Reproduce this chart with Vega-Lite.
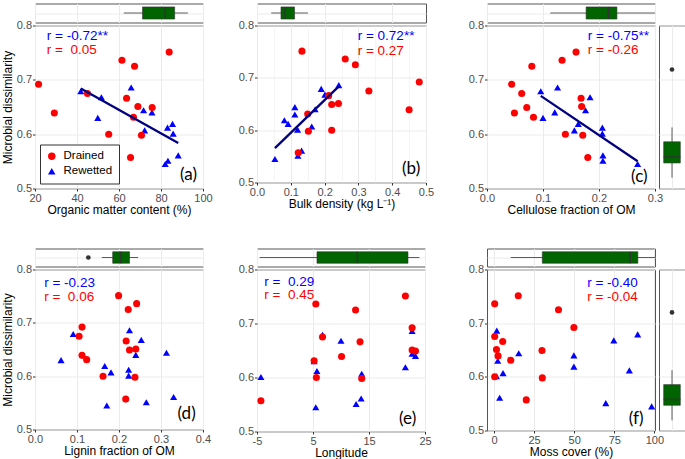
{
"$schema":"https://vega.github.io/schema/vega-lite/v6.json",
"background":"white",
"padding":{"left":0,"top":0.5,"right":0,"bottom":0},
"datasets":{"sites":[
{"g":"Rewetted","dis":0.686,"om":65.8,"bd":0.242,"cel":0.126,"lig":0.225,"lon":22.7,"moss":1.7},
{"g":"Rewetted","dis":0.679,"om":41.8,"bd":0.190,"cel":0.096,"lig":0.091,"lon":6.7,"moss":89.6},
{"g":"Rewetted","dis":0.668,"om":51.6,"bd":0.201,"cel":0.184,"lig":0.253,"lon":10.0,"moss":74.7},
{"g":"Rewetted","dis":0.644,"om":71.7,"bd":0.112,"cel":0.176,"lig":0.313,"lon":22.7,"moss":15.4},
{"g":"Rewetted","dis":0.640,"om":75.7,"bd":0.172,"cel":0.121,"lig":0.240,"lon":23.3,"moss":49.8},
{"g":"Rewetted","dis":0.630,"om":49.9,"bd":0.112,"cel":0.100,"lig":0.062,"lon":5.2,"moss":2.3},
{"g":"Rewetted","dis":0.619,"om":85.5,"bd":0.081,"cel":0.163,"lig":0.166,"lon":21.5,"moss":49.8},
{"g":"Rewetted","dis":0.612,"om":83.1,"bd":0.092,"cel":0.206,"lig":0.223,"lon":5.7,"moss":84.4},
{"g":"Rewetted","dis":0.607,"om":72.2,"bd":0.162,"cel":0.156,"lig":0.181,"lon":13.7,"moss":5.6},
{"g":"Rewetted","dis":0.601,"om":85.8,"bd":0.120,"cel":0.206,"lig":0.223,"lon":-4.3,"moss":1.5},
{"g":"Rewetted","dis":0.561,"om":88.2,"bd":0.132,"cel":0.207,"lig":0.330,"lon":13.6,"moss":3.5},
{"g":"Rewetted","dis":0.551,"om":83.3,"bd":0.121,"cel":0.207,"lig":0.265,"lon":12.7,"moss":69.7},
{"g":"Rewetted","dis":0.545,"om":82.0,"bd":0.053,"cel":0.269,"lig":0.171,"lon":5.5,"moss":98.3},
{"g":"Drained","dis":0.751,"om":83.9,"bd":0.133,"cel":0.159,"lig":0.199,"lon":21.5,"moss":15.1},
{"g":"Drained","dis":0.736,"om":61.4,"bd":0.261,"cel":0.134,"lig":0.242,"lon":5.5,"moss":0.4},
{"g":"Drained","dis":0.725,"om":67.4,"bd":0.291,"cel":0.080,"lig":0.222,"lon":12.6,"moss":40.2},
{"g":"Drained","dis":0.692,"om":21.7,"bd":0.480,"cel":0.044,"lig":0.112,"lon":22.7,"moss":49.8},
{"g":"Drained","dis":0.675,"om":45.0,"bd":0.331,"cel":0.062,"lig":0.105,"lon":6.7,"moss":0.4},
{"g":"Drained","dis":0.666,"om":63.6,"bd":0.212,"cel":0.168,"lig":0.217,"lon":13.4,"moss":5.4},
{"g":"Drained","dis":0.651,"om":69.0,"bd":0.241,"cel":0.169,"lig":0.240,"lon":22.7,"moss":1.5},
{"g":"Drained","dis":0.649,"om":75.8,"bd":0.221,"cel":0.071,"lig":0.225,"lon":23.3,"moss":29.9},
{"g":"Drained","dis":0.639,"om":29.2,"bd":0.450,"cel":0.049,"lig":0.112,"lon":10.1,"moss":2.5},
{"g":"Drained","dis":0.631,"om":66.9,"bd":0.150,"cel":0.083,"lig":0.123,"lon":5.2,"moss":10.4},
{"g":"Drained","dis":0.600,"om":55.1,"bd":0.221,"cel":0.140,"lig":0.162,"lon":5.6,"moss":0.4},
{"g":"Drained","dis":0.598,"om":70.7,"bd":0.152,"cel":0.171,"lig":0.238,"lon":13.7,"moss":30.1},
{"g":"Drained","dis":0.557,"om":65.5,"bd":0.122,"cel":0.180,"lig":0.216,"lon":-4.3,"moss":20.1}
]},
"columns":6,
"bounds":"flush",
"spacing":{"row":3,"column":4},
"resolve":{"scale":{"color":"independent","shape":"independent"}},
"concat":[
   {"width":168,"height":19,"data":{"values":[{"lo":62.3,"q1":71.2,"med":82.0,"q3":86.5,"hi":92.8}]},
    "layer":[
     {"mark":{"type":"rule","color":"#333333","strokeWidth":0.8},"encoding":{"x":{"field":"lo","type":"quantitative","scale":{"domain":[20,100],"nice":false,"zero":false},"axis":{"values":[20,30,40,50,60,70,80,90,100],"labels":false,"ticks":false,"title":null,"gridWidth":{"condition":{"test":"datum.value%20!=0","value":0.5},"value":1}}},"x2":{"field":"hi"},"y":{"datum":0.5,"type":"quantitative","scale":{"domain":[0,1],"nice":false,"zero":false},"axis":{"values":[0.5],"labels":false,"ticks":false,"title":null}}}},
     {"mark":{"type":"rect","fill":"#006400","stroke":"#333333","strokeWidth":0.6},"encoding":{"x":{"field":"q1","type":"quantitative"},"x2":{"field":"q3"},"y":{"datum":0.18,"type":"quantitative"},"y2":{"datum":0.82}}},
     {"mark":{"type":"rule","color":"#333333","strokeWidth":1.5},"encoding":{"x":{"field":"med","type":"quantitative"},"y":{"datum":0.18,"type":"quantitative"},"y2":{"datum":0.82}}}
    ]},
   {"width":1,"height":1,"data":{"values":[{}]},"mark":{"type":"point","opacity":0},"encoding":{},"view":{"stroke":null}},
   {"width":169,"height":19,"data":{"values":[{"lo":0.042,"q1":0.071,"med":0.083,"q3":0.111,"hi":0.151}]},
    "layer":[
     {"mark":{"type":"rule","color":"#333333","strokeWidth":0.8},"encoding":{"x":{"field":"lo","type":"quantitative","scale":{"domain":[0,0.5],"nice":false,"zero":false},"axis":{"values":[0,0.05,0.1,0.15,0.2,0.25,0.3,0.35,0.4,0.45,0.5],"labels":false,"ticks":false,"title":null,"gridWidth":{"condition":{"test":"round(datum.value*100)%10!=0","value":0.5},"value":1}}},"x2":{"field":"hi"},"y":{"datum":0.5,"type":"quantitative","scale":{"domain":[0,1],"nice":false,"zero":false},"axis":{"values":[0.5],"labels":false,"ticks":false,"title":null}}}},
     {"mark":{"type":"rect","fill":"#006400","stroke":"#333333","strokeWidth":0.6},"encoding":{"x":{"field":"q1","type":"quantitative"},"x2":{"field":"q3"},"y":{"datum":0.18,"type":"quantitative"},"y2":{"datum":0.82}}},
     {"mark":{"type":"rule","color":"#333333","strokeWidth":1.5},"encoding":{"x":{"field":"med","type":"quantitative"},"y":{"datum":0.18,"type":"quantitative"},"y2":{"datum":0.82}}}
    ]},
   {"width":1,"height":1,"data":{"values":[{}]},"mark":{"type":"point","opacity":0},"encoding":{},"view":{"stroke":null}},
   {"width":168,"height":19,"data":{"values":[{"lo":0.113,"q1":0.177,"med":0.217,"q3":0.232,"hi":0.3}]},
    "layer":[
     {"mark":{"type":"rule","color":"#333333","strokeWidth":0.8},"encoding":{"x":{"field":"lo","type":"quantitative","scale":{"domain":[0,0.3],"nice":false,"zero":false},"axis":{"values":[0,0.05,0.1,0.15,0.2,0.25,0.3],"labels":false,"ticks":false,"title":null,"gridWidth":{"condition":{"test":"round(datum.value*100)%10!=0","value":0.5},"value":1}}},"x2":{"field":"hi"},"y":{"datum":0.5,"type":"quantitative","scale":{"domain":[0,1],"nice":false,"zero":false},"axis":{"values":[0.5],"labels":false,"ticks":false,"title":null}}}},
     {"mark":{"type":"rect","fill":"#006400","stroke":"#333333","strokeWidth":0.6},"encoding":{"x":{"field":"q1","type":"quantitative"},"x2":{"field":"q3"},"y":{"datum":0.18,"type":"quantitative"},"y2":{"datum":0.82}}},
     {"mark":{"type":"rule","color":"#333333","strokeWidth":1.5},"encoding":{"x":{"field":"med","type":"quantitative"},"y":{"datum":0.18,"type":"quantitative"},"y2":{"datum":0.82}}}
    ]},
   {"width":1,"height":1,"data":{"values":[{}]},"mark":{"type":"point","opacity":0},"encoding":{},"view":{"stroke":null}},

   {"width":168,"height":163,"data":{"name":"sites"},
    "layer":[
     {"mark":{"type":"point","filled":true,"opacity":1,"size":50},"encoding":{
       "x":{"field":"om","type":"quantitative","scale":{"domain":[20,100],"nice":false,"zero":false},"axis":{"values":[20,30,40,50,60,70,80,90,100],"labelOverlap":false,"labelExpr":"datum.value%20==0 ? ''+datum.value : ''","gridWidth":{"condition":{"test":"datum.value%20!=0","value":0.5},"value":1},"tickOpacity":{"condition":{"test":"datum.value%20!=0","value":0},"value":1},"title":"Organic matter content (%)"}},
       "y":{"field":"dis","type":"quantitative","scale":{"domain":[0.5,0.8],"nice":false,"zero":false},"axis":{"values":[0.5,0.55,0.6,0.65,0.7,0.75,0.8],"labelOverlap":false,"format":".1f","labelExpr":"round(datum.value*100)%10==0 ? datum.label : ''","gridWidth":{"condition":{"test":"round(datum.value*100)%10!=0","value":0.5},"value":1},"tickOpacity":{"condition":{"test":"round(datum.value*100)%10!=0","value":0},"value":1},"title":"Microbial dissimilarity"}},
       "color":{"field":"g","type":"nominal","scale":{"domain":["Drained","Rewetted"],"range":["#ff0000","#0000ff"]},"legend":{"title":null,"orient":"bottom-left","offset":5,"padding":6,"strokeColor":"#333333","fillColor":"#ffffff","labelFontSize":11.5,"labelColor":"#000000","symbolSize":55,"rowPadding":2,"labelOffset":6,"cornerRadius":0}},
       "shape":{"field":"g","type":"nominal","scale":{"domain":["Drained","Rewetted"],"range":["circle","triangle-up"]},"legend":{"title":null,"orient":"bottom-left","offset":5,"padding":6,"strokeColor":"#333333","fillColor":"#ffffff","labelFontSize":11.5,"labelColor":"#000000","symbolSize":55,"rowPadding":2,"labelOffset":6,"cornerRadius":0}}}},
     {"transform":[{"filter":"datum.g == 'Rewetted'"},{"regression":"dis","on":"om"}],"mark":{"type":"line","color":"#000080","strokeWidth":2.3},"encoding":{"x":{"field":"om","type":"quantitative"},"y":{"field":"dis","type":"quantitative"}}},
     {"data":{"values":[{}]},"mark":{"type":"text","align":"left","baseline":"middle","fontSize":13.5,"color":"#0000ff","text":"r = -0.72**"},"encoding":{"x":{"datum":25.6,"type":"quantitative"},"y":{"datum":0.780,"type":"quantitative"}}},
     {"data":{"values":[{}]},"mark":{"type":"text","align":"left","baseline":"middle","fontSize":13.5,"color":"#ff0000","text":"r = \u00a00.05"},"encoding":{"x":{"datum":25.6,"type":"quantitative"},"y":{"datum":0.754,"type":"quantitative"}}},
     {"data":{"values":[{}]},"mark":{"type":"text","align":"center","baseline":"middle","font":"Lato","fontSize":17,"color":"#000000","text":"(a)"},"encoding":{"x":{"datum":93.1,"type":"quantitative"},"y":{"datum":0.524,"type":"quantitative"}}}
    ]},
   {"width":1,"height":1,"data":{"values":[{}]},"mark":{"type":"point","opacity":0},"encoding":{},"view":{"stroke":null}},
   {"width":169,"height":157,"data":{"name":"sites"},
    "resolve":{"axis":{"x":"independent"}},
    "layer":[
     {"mark":{"type":"point","filled":true,"opacity":1,"size":50},"encoding":{
       "x":{"field":"bd","type":"quantitative","scale":{"domain":[0,0.5],"nice":false,"zero":false},"axis":{"orient":"bottom","values":[0,0.05,0.15,0.2,0.25,0.35,0.4,0.45],"labelOverlap":false,"labelExpr":"indexof([0,0.2,0.4], datum.value) >= 0 ? format(datum.value, '.1f') : ''","gridWidth":{"condition":{"test":"indexof([0,0.2,0.4], datum.value) < 0","value":0.5},"value":1},"tickOpacity":{"condition":{"test":"indexof([0,0.2,0.4], datum.value) < 0","value":0},"value":1},"title":"Bulk density (kg L⁻¹)"}},
       "y":{"field":"dis","type":"quantitative","scale":{"domain":[0.5,0.8],"nice":false,"zero":false},"axis":{"values":[0.5,0.55,0.6,0.65,0.7,0.75,0.8],"labelOverlap":false,"format":".1f","labelExpr":"round(datum.value*100)%10==0 ? datum.label : ''","gridWidth":{"condition":{"test":"round(datum.value*100)%10!=0","value":0.5},"value":1},"tickOpacity":{"condition":{"test":"round(datum.value*100)%10!=0","value":0},"value":1},"title":null}},
       "color":{"field":"g","type":"nominal","scale":{"domain":["Drained","Rewetted"],"range":["#ff0000","#0000ff"]},"legend":null},
       "shape":{"field":"g","type":"nominal","scale":{"domain":["Drained","Rewetted"],"range":["circle","triangle-up"]},"legend":null}}},
     {"transform":[{"filter":"datum.g == 'Rewetted'"},{"regression":"dis","on":"bd"}],"mark":{"type":"line","color":"#000080","strokeWidth":2.3},"encoding":{"x":{"field":"bd","type":"quantitative","axis":{"orient":"bottom","values":[0.1,0.3,0.5],"format":".1f","labelOverlap":false,"grid":true,"gridWidth":1,"title":null}},"y":{"field":"dis","type":"quantitative"}}},
     {"data":{"values":[{}]},"mark":{"type":"text","align":"left","baseline":"middle","fontSize":13.5,"color":"#0000ff","text":"r = 0.72**"},"encoding":{"x":{"datum":0.298,"type":"quantitative","axis":null},"y":{"datum":0.780,"type":"quantitative"}}},
     {"data":{"values":[{}]},"mark":{"type":"text","align":"left","baseline":"middle","fontSize":13.5,"color":"#ff0000","text":"r = 0.27"},"encoding":{"x":{"datum":0.298,"type":"quantitative","axis":null},"y":{"datum":0.751,"type":"quantitative"}}},
     {"data":{"values":[{}]},"mark":{"type":"text","align":"center","baseline":"middle","font":"Lato","fontSize":17,"color":"#000000","text":"(b)"},"encoding":{"x":{"datum":0.456,"type":"quantitative","axis":null},"y":{"datum":0.525,"type":"quantitative"}}}
    ]},
   {"width":1,"height":1,"data":{"values":[{}]},"mark":{"type":"point","opacity":0},"encoding":{},"view":{"stroke":null}},
   {"width":168,"height":163,"data":{"name":"sites"},
    "layer":[
     {"mark":{"type":"point","filled":true,"opacity":1,"size":50},"encoding":{
       "x":{"field":"cel","type":"quantitative","scale":{"domain":[0,0.3],"nice":false,"zero":false},"axis":{"values":[0,0.05,0.1,0.15,0.2,0.25,0.3],"labelOverlap":false,"format":".1f","labelExpr":"round(datum.value*100)%10==0 ? datum.label : ''","gridWidth":{"condition":{"test":"round(datum.value*100)%10!=0","value":0.5},"value":1},"tickOpacity":{"condition":{"test":"round(datum.value*100)%10!=0","value":0},"value":1},"title":"Cellulose fraction of OM"}},
       "y":{"field":"dis","type":"quantitative","scale":{"domain":[0.5,0.8],"nice":false,"zero":false},"axis":{"values":[0.5,0.55,0.6,0.65,0.7,0.75,0.8],"labelOverlap":false,"format":".1f","labelExpr":"round(datum.value*100)%10==0 ? datum.label : ''","gridWidth":{"condition":{"test":"round(datum.value*100)%10!=0","value":0.5},"value":1},"tickOpacity":{"condition":{"test":"round(datum.value*100)%10!=0","value":0},"value":1},"title":null}},
       "color":{"field":"g","type":"nominal","scale":{"domain":["Drained","Rewetted"],"range":["#ff0000","#0000ff"]},"legend":null},
       "shape":{"field":"g","type":"nominal","scale":{"domain":["Drained","Rewetted"],"range":["circle","triangle-up"]},"legend":null}}},
     {"transform":[{"filter":"datum.g == 'Rewetted'"},{"regression":"dis","on":"cel"}],"mark":{"type":"line","color":"#000080","strokeWidth":2.3},"encoding":{"x":{"field":"cel","type":"quantitative"},"y":{"field":"dis","type":"quantitative"}}},
     {"data":{"values":[{}]},"mark":{"type":"text","align":"left","baseline":"middle","fontSize":13.5,"color":"#0000ff","text":"r = -0.75**"},"encoding":{"x":{"datum":0.18,"type":"quantitative"},"y":{"datum":0.780,"type":"quantitative"}}},
     {"data":{"values":[{}]},"mark":{"type":"text","align":"left","baseline":"middle","fontSize":13.5,"color":"#ff0000","text":"r = -0.26"},"encoding":{"x":{"datum":0.18,"type":"quantitative"},"y":{"datum":0.754,"type":"quantitative"}}},
     {"data":{"values":[{}]},"mark":{"type":"text","align":"center","baseline":"middle","font":"Lato","fontSize":17,"color":"#000000","text":"(c)"},"encoding":{"x":{"datum":0.272,"type":"quantitative"},"y":{"datum":0.522,"type":"quantitative"}}}
    ]},
   {"width":26,"height":163,"data":{"values":[{"lo":0.520,"q1":0.547,"med":0.558,"q3":0.586,"hi":0.6125}]},
    "layer":[
     {"mark":{"type":"rule","color":"#333333","strokeWidth":0.8},"encoding":{"y":{"field":"lo","type":"quantitative","scale":{"domain":[0.5,0.8],"nice":false,"zero":false},"axis":{"values":[0.5,0.55,0.6,0.65,0.7,0.75,0.8],"labels":false,"ticks":false,"title":null,"gridWidth":{"condition":{"test":"round(datum.value*100)%10!=0","value":0.5},"value":1}}},"y2":{"field":"hi"},"x":{"datum":0.5,"type":"quantitative","scale":{"domain":[0,1],"nice":false,"zero":false},"axis":{"values":[0.5],"labels":false,"ticks":false,"title":null}}}},
     {"mark":{"type":"rect","fill":"#006400","stroke":"#333333","strokeWidth":0.6},"encoding":{"y":{"field":"q1","type":"quantitative"},"y2":{"field":"q3"},"x":{"datum":0.18,"type":"quantitative"},"x2":{"datum":0.82}}},
     {"mark":{"type":"rule","color":"#333333","strokeWidth":1.5},"encoding":{"y":{"field":"med","type":"quantitative"},"x":{"datum":0.18,"type":"quantitative"},"x2":{"datum":0.82}}},
     {"data":{"values":[{"v":0.719}]},"mark":{"type":"point","filled":true,"color":"#333333","size":22,"opacity":1},"encoding":{"y":{"field":"v","type":"quantitative"},"x":{"datum":0.5,"type":"quantitative"}}}
    ]},

   {"width":1,"height":54,"data":{"values":[{}]},"mark":{"type":"point","opacity":0},"encoding":{},"view":{"stroke":null}},
   {"width":46,"height":1,"data":{"values":[{}]},"mark":{"type":"point","opacity":0},"encoding":{},"view":{"stroke":null}},
   {"width":1,"height":1,"data":{"values":[{}]},"mark":{"type":"point","opacity":0},"encoding":{},"view":{"stroke":null}},
   {"width":53,"height":1,"data":{"values":[{}]},"mark":{"type":"point","opacity":0},"encoding":{},"view":{"stroke":null}},
   {"width":1,"height":1,"data":{"values":[{}]},"mark":{"type":"point","opacity":0},"encoding":{},"view":{"stroke":null}},
   {"width":1,"height":1,"data":{"values":[{}]},"mark":{"type":"point","opacity":0},"encoding":{},"view":{"stroke":null}},

   {"width":168,"height":18,"data":{"values":[{"lo":0.159,"q1":0.185,"med":0.204,"q3":0.225,"hi":0.2455}]},
    "layer":[
     {"mark":{"type":"rule","color":"#333333","strokeWidth":0.8},"encoding":{"x":{"field":"lo","type":"quantitative","scale":{"domain":[0,0.4],"nice":false,"zero":false},"axis":{"values":[0,0.05,0.1,0.15,0.2,0.25,0.3,0.35,0.4],"labels":false,"ticks":false,"title":null,"gridWidth":{"condition":{"test":"round(datum.value*100)%10!=0","value":0.5},"value":1}}},"x2":{"field":"hi"},"y":{"datum":0.5,"type":"quantitative","scale":{"domain":[0,1],"nice":false,"zero":false},"axis":{"values":[0.5],"labels":false,"ticks":false,"title":null}}}},
     {"mark":{"type":"rect","fill":"#006400","stroke":"#333333","strokeWidth":0.6},"encoding":{"x":{"field":"q1","type":"quantitative"},"x2":{"field":"q3"},"y":{"datum":0.18,"type":"quantitative"},"y2":{"datum":0.82}}},
     {"mark":{"type":"rule","color":"#333333","strokeWidth":1.5},"encoding":{"x":{"field":"med","type":"quantitative"},"y":{"datum":0.18,"type":"quantitative"},"y2":{"datum":0.82}}},
     {"data":{"values":[{"v":0.127}]},"mark":{"type":"point","filled":true,"color":"#333333","size":22,"opacity":1},"encoding":{"x":{"field":"v","type":"quantitative"},"y":{"datum":0.5,"type":"quantitative"}}}
    ]},
   {"width":1,"height":1,"data":{"values":[{}]},"mark":{"type":"point","opacity":0},"encoding":{},"view":{"stroke":null}},
   {"width":168,"height":18,"data":{"values":[{"lo":-4.52,"q1":5.71,"med":12.92,"q3":21.96,"hi":23.99}]},
    "layer":[
     {"mark":{"type":"rule","color":"#333333","strokeWidth":0.8},"encoding":{"x":{"field":"lo","type":"quantitative","scale":{"domain":[-5,25],"nice":false,"zero":false},"axis":{"values":[-5,-2.5,0,2.5,5,7.5,10,12.5,15,17.5,20,22.5,25],"labels":false,"ticks":false,"title":null,"gridWidth":{"condition":{"test":"datum.value%5!=0","value":0.5},"value":1}}},"x2":{"field":"hi"},"y":{"datum":0.5,"type":"quantitative","scale":{"domain":[0,1],"nice":false,"zero":false},"axis":{"values":[0.5],"labels":false,"ticks":false,"title":null}}}},
     {"mark":{"type":"rect","fill":"#006400","stroke":"#333333","strokeWidth":0.6},"encoding":{"x":{"field":"q1","type":"quantitative"},"x2":{"field":"q3"},"y":{"datum":0.18,"type":"quantitative"},"y2":{"datum":0.82}}},
     {"mark":{"type":"rule","color":"#333333","strokeWidth":1.5},"encoding":{"x":{"field":"med","type":"quantitative"},"y":{"datum":0.18,"type":"quantitative"},"y2":{"datum":0.82}}}
    ]},
   {"width":1,"height":1,"data":{"values":[{}]},"mark":{"type":"point","opacity":0},"encoding":{},"view":{"stroke":null}},
   {"width":168,"height":18,"data":{"values":[{"lo":10.4,"q1":30.1,"med":84.9,"q3":89.7,"hi":100.4}]},
    "layer":[
     {"mark":{"type":"rule","color":"#333333","strokeWidth":0.8},"encoding":{"x":{"field":"lo","type":"quantitative","scale":{"domain":[-4.4,100.4],"nice":false,"zero":false},"axis":{"values":[0,12.5,25,37.5,50,62.5,75,87.5,100],"labels":false,"ticks":false,"title":null,"gridWidth":{"condition":{"test":"datum.value%25!=0","value":0.5},"value":1}}},"x2":{"field":"hi"},"y":{"datum":0.5,"type":"quantitative","scale":{"domain":[0,1],"nice":false,"zero":false},"axis":{"values":[0.5],"labels":false,"ticks":false,"title":null}}}},
     {"mark":{"type":"rect","fill":"#006400","stroke":"#333333","strokeWidth":0.6},"encoding":{"x":{"field":"q1","type":"quantitative"},"x2":{"field":"q3"},"y":{"datum":0.18,"type":"quantitative"},"y2":{"datum":0.82}}},
     {"mark":{"type":"rule","color":"#333333","strokeWidth":1.5},"encoding":{"x":{"field":"med","type":"quantitative"},"y":{"datum":0.18,"type":"quantitative"},"y2":{"datum":0.82}}}
    ]},
   {"width":1,"height":1,"data":{"values":[{}]},"mark":{"type":"point","opacity":0},"encoding":{},"view":{"stroke":null}},

   {"width":168,"height":160,"data":{"name":"sites"},
    "layer":[
     {"mark":{"type":"point","filled":true,"opacity":1,"size":50},"encoding":{
       "x":{"field":"lig","type":"quantitative","scale":{"domain":[0,0.4],"nice":false,"zero":false},"axis":{"values":[0,0.05,0.1,0.15,0.2,0.25,0.3,0.35,0.4],"labelOverlap":false,"format":".1f","labelExpr":"round(datum.value*100)%10==0 ? datum.label : ''","gridWidth":{"condition":{"test":"round(datum.value*100)%10!=0","value":0.5},"value":1},"tickOpacity":{"condition":{"test":"round(datum.value*100)%10!=0","value":0},"value":1},"title":"Lignin fraction of OM"}},
       "y":{"field":"dis","type":"quantitative","scale":{"domain":[0.5,0.8],"nice":false,"zero":false},"axis":{"values":[0.5,0.55,0.6,0.65,0.7,0.75,0.8],"labelOverlap":false,"format":".1f","labelExpr":"round(datum.value*100)%10==0 ? datum.label : ''","gridWidth":{"condition":{"test":"round(datum.value*100)%10!=0","value":0.5},"value":1},"tickOpacity":{"condition":{"test":"round(datum.value*100)%10!=0","value":0},"value":1},"title":"Microbial dissimilarity"}},
       "color":{"field":"g","type":"nominal","scale":{"domain":["Drained","Rewetted"],"range":["#ff0000","#0000ff"]},"legend":null},
       "shape":{"field":"g","type":"nominal","scale":{"domain":["Drained","Rewetted"],"range":["circle","triangle-up"]},"legend":null}}},
     {"data":{"values":[{}]},"mark":{"type":"text","align":"left","baseline":"middle","fontSize":13.5,"color":"#0000ff","text":"r = -0.23"},"encoding":{"x":{"datum":0.022,"type":"quantitative"},"y":{"datum":0.775,"type":"quantitative"}}},
     {"data":{"values":[{}]},"mark":{"type":"text","align":"left","baseline":"middle","fontSize":13.5,"color":"#ff0000","text":"r = \u00a00.06"},"encoding":{"x":{"datum":0.022,"type":"quantitative"},"y":{"datum":0.749,"type":"quantitative"}}},
     {"data":{"values":[{}]},"mark":{"type":"text","align":"center","baseline":"middle","font":"Lato","fontSize":17,"color":"#000000","text":"(d)"},"encoding":{"x":{"datum":0.361,"type":"quantitative"},"y":{"datum":0.529,"type":"quantitative"}}}
    ]},
   {"width":1,"height":1,"data":{"values":[{}]},"mark":{"type":"point","opacity":0},"encoding":{},"view":{"stroke":null}},
   {"width":168,"height":162,"data":{"name":"sites"},
    "layer":[
     {"mark":{"type":"point","filled":true,"opacity":1,"size":50},"encoding":{
       "x":{"field":"lon","type":"quantitative","scale":{"domain":[-5,25],"nice":false,"zero":false},"axis":{"values":[-5,-2.5,0,2.5,5,7.5,10,12.5,15,17.5,20,22.5,25],"labelOverlap":false,"labelExpr":"datum.value%5==0 ? ''+datum.value : ''","gridWidth":{"condition":{"test":"datum.value%5!=0","value":0.5},"value":1},"tickOpacity":{"condition":{"test":"datum.value%5!=0","value":0},"value":1},"title":"Longitude"}},
       "y":{"field":"dis","type":"quantitative","scale":{"domain":[0.5,0.8],"nice":false,"zero":false},"axis":{"values":[0.5,0.55,0.6,0.65,0.7,0.75,0.8],"labelOverlap":false,"format":".1f","labelExpr":"round(datum.value*100)%10==0 ? datum.label : ''","gridWidth":{"condition":{"test":"round(datum.value*100)%10!=0","value":0.5},"value":1},"tickOpacity":{"condition":{"test":"round(datum.value*100)%10!=0","value":0},"value":1},"title":null}},
       "color":{"field":"g","type":"nominal","scale":{"domain":["Drained","Rewetted"],"range":["#ff0000","#0000ff"]},"legend":null},
       "shape":{"field":"g","type":"nominal","scale":{"domain":["Drained","Rewetted"],"range":["circle","triangle-up"]},"legend":null}}},
     {"data":{"values":[{}]},"mark":{"type":"text","align":"left","baseline":"middle","fontSize":13.5,"color":"#0000ff","text":"r = \u00a00.29"},"encoding":{"x":{"datum":-3.69,"type":"quantitative"},"y":{"datum":0.777,"type":"quantitative"}}},
     {"data":{"values":[{}]},"mark":{"type":"text","align":"left","baseline":"middle","fontSize":13.5,"color":"#ff0000","text":"r = \u00a00.45"},"encoding":{"x":{"datum":-3.69,"type":"quantitative"},"y":{"datum":0.752,"type":"quantitative"}}},
     {"data":{"values":[{}]},"mark":{"type":"text","align":"center","baseline":"middle","font":"Lato","fontSize":17,"color":"#000000","text":"(e)"},"encoding":{"x":{"datum":21.9,"type":"quantitative"},"y":{"datum":0.524,"type":"quantitative"}}}
    ]},
   {"width":1,"height":1,"data":{"values":[{}]},"mark":{"type":"point","opacity":0},"encoding":{},"view":{"stroke":null}},
   {"width":168,"height":161,"data":{"name":"sites"},
    "layer":[
     {"mark":{"type":"point","filled":true,"opacity":1,"size":50},"encoding":{
       "x":{"field":"moss","type":"quantitative","scale":{"domain":[-4.4,100.4],"nice":false,"zero":false},"axis":{"values":[0,12.5,25,37.5,50,62.5,75,87.5,100],"labelOverlap":false,"labelExpr":"datum.value%25==0 ? ''+datum.value : ''","gridWidth":{"condition":{"test":"datum.value%25!=0","value":0.5},"value":1},"tickOpacity":{"condition":{"test":"datum.value%25!=0","value":0},"value":1},"title":"Moss cover (%)"}},
       "y":{"field":"dis","type":"quantitative","scale":{"domain":[0.5,0.8],"nice":false,"zero":false},"axis":{"values":[0.5,0.55,0.6,0.65,0.7,0.75,0.8],"labelOverlap":false,"format":".1f","labelExpr":"round(datum.value*100)%10==0 ? datum.label : ''","gridWidth":{"condition":{"test":"round(datum.value*100)%10!=0","value":0.5},"value":1},"tickOpacity":{"condition":{"test":"round(datum.value*100)%10!=0","value":0},"value":1},"title":null}},
       "color":{"field":"g","type":"nominal","scale":{"domain":["Drained","Rewetted"],"range":["#ff0000","#0000ff"]},"legend":null},
       "shape":{"field":"g","type":"nominal","scale":{"domain":["Drained","Rewetted"],"range":["circle","triangle-up"]},"legend":null}}},
     {"data":{"values":[{}]},"mark":{"type":"text","align":"left","baseline":"middle","fontSize":13.5,"color":"#0000ff","text":"r = -0.40"},"encoding":{"x":{"datum":58.1,"type":"quantitative"},"y":{"datum":0.774,"type":"quantitative"}}},
     {"data":{"values":[{}]},"mark":{"type":"text","align":"left","baseline":"middle","fontSize":13.5,"color":"#ff0000","text":"r = -0.04"},"encoding":{"x":{"datum":58.1,"type":"quantitative"},"y":{"datum":0.748,"type":"quantitative"}}},
     {"data":{"values":[{}]},"mark":{"type":"text","align":"center","baseline":"middle","font":"Lato","fontSize":17,"color":"#000000","text":"(f)"},"encoding":{"x":{"datum":88.6,"type":"quantitative"},"y":{"datum":0.522,"type":"quantitative"}}}
    ]},
   {"width":26,"height":161,"data":{"values":[{"lo":0.519,"q1":0.547,"med":0.558,"q3":0.5855,"hi":0.6125}]},
    "layer":[
     {"mark":{"type":"rule","color":"#333333","strokeWidth":0.8},"encoding":{"y":{"field":"lo","type":"quantitative","scale":{"domain":[0.5,0.8],"nice":false,"zero":false},"axis":{"values":[0.5,0.55,0.6,0.65,0.7,0.75,0.8],"labels":false,"ticks":false,"title":null,"gridWidth":{"condition":{"test":"round(datum.value*100)%10!=0","value":0.5},"value":1}}},"y2":{"field":"hi"},"x":{"datum":0.5,"type":"quantitative","scale":{"domain":[0,1],"nice":false,"zero":false},"axis":{"values":[0.5],"labels":false,"ticks":false,"title":null}}}},
     {"mark":{"type":"rect","fill":"#006400","stroke":"#333333","strokeWidth":0.6},"encoding":{"y":{"field":"q1","type":"quantitative"},"y2":{"field":"q3"},"x":{"datum":0.18,"type":"quantitative"},"x2":{"datum":0.82}}},
     {"mark":{"type":"rule","color":"#333333","strokeWidth":1.5},"encoding":{"y":{"field":"med","type":"quantitative"},"x":{"datum":0.18,"type":"quantitative"},"x2":{"datum":0.82}}},
     {"data":{"values":[{"v":0.72}]},"mark":{"type":"point","filled":true,"color":"#333333","size":22,"opacity":1},"encoding":{"y":{"field":"v","type":"quantitative"},"x":{"datum":0.5,"type":"quantitative"}}}
    ]}
],
"config":{
 "font":"Liberation Sans",
 "view":{"stroke":"#555555","strokeWidth":1},
 "axis":{"domain":false,"grid":true,"gridColor":"#ebebeb","labelColor":"#4d4d4d","labelFont":"Liberation Sans","labelFontSize":11,"labelPadding":1,"labelOverlap":false,"labelFlush":false,"tickColor":"#333333","tickSize":2.5,"tickWidth":1,"titleFont":"Liberation Sans","titleFontSize":12,"titleFontWeight":"normal","titleColor":"#000000","titlePadding":1,"minExtent":0},
 "axisY":{"titlePadding":2}
}
}
